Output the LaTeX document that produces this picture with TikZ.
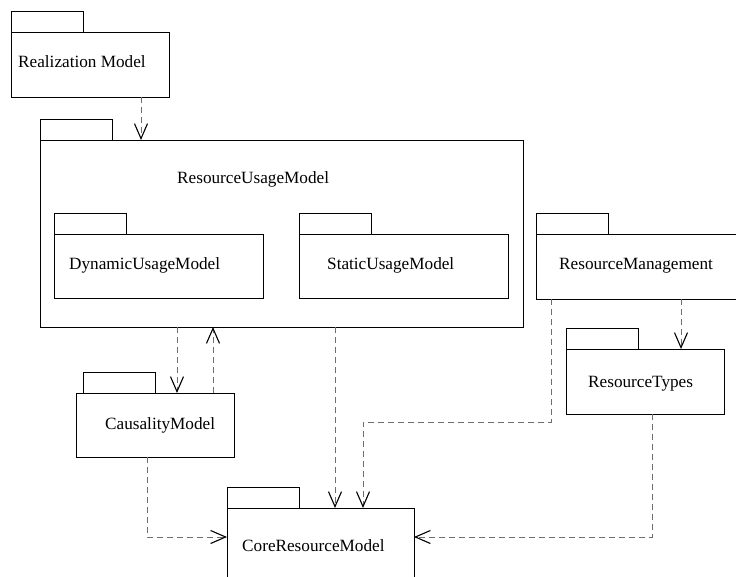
\documentclass[tikz,border=0pt]{standalone}
\usepackage{fontspec}
\setmainfont{Liberation Serif}
\usetikzlibrary{positioning,arrows.meta}
\definecolor{DashGray}{HTML}{6E6E6E}

\begin{document}
\begin{tikzpicture}[x=1pt, y=-1pt]
  \tikzstyle{pkg} = [rectangle, draw=black, line width=0.9pt, fill=white, anchor=north west, outer sep=0pt, inner sep=0pt]
  \tikzstyle{pkgtab} = [rectangle, draw=black, line width=0.9pt, fill=white, minimum width=72pt, minimum height=21pt, outer sep=0pt, inner sep=0pt]
  \tikzstyle{pkgname} = [anchor=base west, inner sep=0pt, font=\fontsize{17.2}{20}\selectfont]
  \tikzstyle{dep} = [DashGray, line width=0.9pt, dash pattern=on 6pt off 4pt, -{Straight Barb[length=15pt, width=13pt, line width=1.1pt, color=black]}]

  \useasboundingbox (0,0) rectangle (736,577);
  \clip (0,0) rectangle (736,577);

  % packages
  \node [pkg, minimum width=158pt, minimum height=65pt] (real) at (11,32) {};
  \node [pkgtab, above right=0pt of real.north west] (realtab) {};

  \node [pkg, minimum width=483pt, minimum height=187pt] (rum) at (40,140) {};
  \node [pkgtab, above right=0pt of rum.north west] (rumtab) {};

  \node [pkg, minimum width=209pt, minimum height=64pt] (dyn) at (54,234) {};
  \node [pkgtab, above right=0pt of dyn.north west] (dyntab) {};

  \node [pkg, minimum width=209pt, minimum height=64pt] (stat) at (299,234) {};
  \node [pkgtab, above right=0pt of stat.north west] (stattab) {};

  \node [pkg, minimum width=230pt, minimum height=65pt] (rm) at (536,234) {};
  \node [pkgtab, above right=0pt of rm.north west] (rmtab) {};

  \node [pkg, minimum width=158pt, minimum height=65pt] (rt) at (566,349) {};
  \node [pkgtab, above right=0pt of rt.north west] (rttab) {};

  \node [pkg, minimum width=158pt, minimum height=64pt] (caus) at (76,393) {};
  \node [pkgtab, above right=0pt and 7pt of caus.north west] (caustab) {};

  \node [pkg, minimum width=187pt, minimum height=90pt] (core) at (227,508) {};
  \node [pkgtab, above right=0pt of core.north west] (coretab) {};

  % names
  \node [pkgname] (realname) at (18,68) {Realization Model};
  \node [pkgname] (rumname) at (177,184) {ResourceUsageModel};
  \node [pkgname] (dynname) at (69,270) {DynamicUsageModel};
  \node [pkgname] (statname) at (327,270) {StaticUsageModel};
  \node [pkgname] (rmname) at (559,270) {ResourceManagement};
  \node [pkgname] (rtname) at (588,387) {ResourceTypes};
  \node [pkgname] (causname) at (105,429) {CausalityModel};
  \node [pkgname] (corename) at (242,551) {CoreResourceModel};

  % dependencies
  \draw [dep] ([xshift=-140.5pt]rum.north |- real.south) -- ([xshift=-140.5pt]rum.north);
  \draw [dep] ([xshift=22pt]caus.north |- rum.south) -- ([xshift=22pt]caus.north);
  \draw [dep] ([xshift=58pt]caus.north) -- ([xshift=58pt]caus.north |- rum.south);
  \draw [dep] ([xshift=14.5pt]core.north |- rum.south) -- ([xshift=14.5pt]core.north);
  \draw [dep] ([xshift=36pt]rt.north |- rm.south) -- ([xshift=36pt]rt.north);
  \draw [dep] ([xshift=15pt]rm.south west) |- ([xshift=42.5pt, yshift=86pt]core.north) -- ([xshift=42.5pt]core.north);
  \draw [dep] ([xshift=7pt]rt.south) |- ([yshift=-29pt]core.north east);
  \draw [dep] ([xshift=-8pt]caus.south) |- ([yshift=-29pt]core.north west);
\end{tikzpicture}
\end{document}
